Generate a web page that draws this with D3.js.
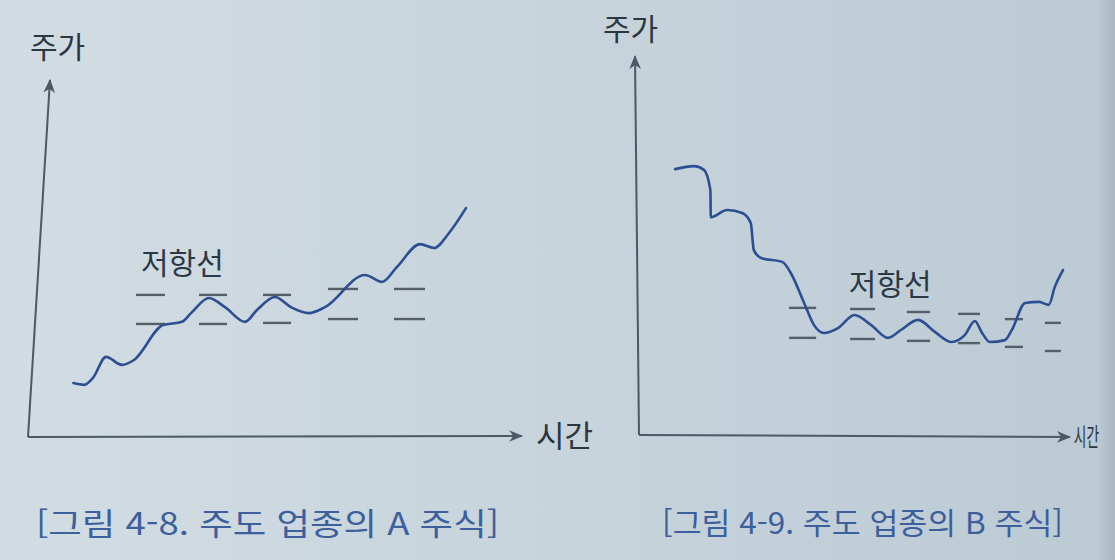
<!DOCTYPE html>
<html lang="ko">
<head>
    <meta charset="UTF-8">
    <title>저항선 - 주도 업종</title>
    <script src="https://d3js.org/d3.v7.min.js"></script>
    <style>
        body {margin: 0; background: #cbd7df}
        text {font-family: 'Noto Sans CJK KR', 'Noto Sans', sans-serif}
    </style>
</head>
<body>
<script>
    const width  = 1115;
    const height = 560;

    // chart A (그림 4-8): time / price in chart units (0-100)
    const timeA  = [9.1, 11.2, 13, 15.6, 18.8, 21.2, 27, 30.8, 32.6, 36.2, 39.4, 43.4, 45.8, 49.4,
                    52.6, 56.2, 59.4, 67.4, 70.8, 73.8, 78.4, 81.2, 84.2, 87.6];
    const priceA = [15.4, 14.9, 16.9, 22.9, 20.6, 22, 32, 32.9, 35.4, 39.7, 37.1, 32.9, 36.3, 40,
                    37.1, 35.4, 37.1, 46.3, 44.3, 48.6, 55.1, 54, 58.3, 65.4];
    // resistance dashes A: start/end time, upper and lower price
    const dashStartA = [21.6, 34.2, 47, 60, 73.2];
    const dashEndA   = [27.4, 39.8, 52.6, 66, 79.4];
    const dashHighA  = [40.6, 40.6, 40.6, 42.3, 42.3];
    const dashLowA   = [32.3, 32.3, 32.6, 33.7, 33.7];

    // chart B (그림 4-9)
    const timeB  = [8.4, 12.8, 15.1, 16.6, 16.7, 20.5, 24, 26, 26.7, 28.4, 33.4, 35.3, 38.4, 40.7,
                    43, 46.3, 50.1, 54, 57.9, 60.9, 64.9, 68.8, 72.7, 75.8, 78.1, 79.8, 81.6,
                    85.1, 86.7, 89.8, 93, 95.3, 96.7, 98.6];
    const priceB = [70.9, 71.7, 70.7, 65.3, 58.1, 60, 59.2, 56.5, 49.3, 47.2, 46.1, 43.2, 35.2, 29.3,
                    27.2, 28.5, 32, 29.3, 25.9, 28, 30.7, 27.5, 24.8, 26.7, 30.4, 27.2, 24.8,
                    25.3, 28, 35.2, 35.5, 34.7, 39.5, 44];
    const dashStartB = [34.9, 49.1, 62.3, 74.2, 85.1, 94.4];
    const dashEndB   = [41.2, 54.9, 67.7, 79.3, 89.3, 98.1];
    const dashHighB  = [33.9, 33.6, 32.8, 32.3, 30.9, 29.9];
    const dashLowB   = [25.9, 25.6, 25.1, 24.5, 23.5, 22.4];

    const yLabel   = "주가";
    const xLabel   = "시간";
    const resLabel = "저항선";
    const captions = ["[그림 4-8. 주도 업종의 A 주식]", "[그림 4-9. 주도 업종의 B 주식]"];

    const panels = [
        {t: timeA, p: priceA, ds: dashStartA, de: dashEndA, dh: dashHighA, dl: dashLowA,
         x: d3.scaleLinear([0, 100], [28, 528]), y: d3.scaleLinear([0, 100], [437, 87]),
         xEnd: 98.8, yEnd: 102, lean: 22, endDrop: -1,
         yLab: {dx: -20, dy: -22, size: 30}, xLab: {dx: 14, size: 31, sx: 1},
         res: {t: 22.6, p: 46.5},
         cap: {x: 36, y: 535, size: 31, len: 463}},
        {t: timeB, p: priceB, ds: dashStartB, de: dashEndB, dh: dashHighB, dl: dashLowB,
         x: d3.scaleLinear([0, 100], [639, 1069]), y: d3.scaleLinear([0, 100], [435, 60]),
         xEnd: 100.2, yEnd: 101, lean: -4, endDrop: 2,
         yLab: {dx: -32, dy: -16, size: 30}, xLab: {dx: 4, size: 25, sx: 0.55},
         res: {t: 48.8, p: 37.3},
         cap: {x: 662, y: 534, size: 30, len: 401}}
    ];

    const svg = d3.select("body")
            .append("svg")
            .attr("width", width)
            .attr("height", height);

    const defs = svg.append("defs");
    const grad = defs.append("linearGradient")
            .attr("id", "paper")
            .attr("gradientUnits", "userSpaceOnUse")
            .attr("x1", 0).attr("y1", 0)
            .attr("x2", width).attr("y2", 0);
    grad.append("stop").attr("offset", "0").attr("stop-color", "#d2dce3");
    grad.append("stop").attr("offset", "0.5").attr("stop-color", "#c7d4dc");
    grad.append("stop").attr("offset", "0.985").attr("stop-color", "#bccad4");
    grad.append("stop").attr("offset", "1").attr("stop-color", "#a7b6c0");

    defs.append("marker")
            .attr("id", "arrow")
            .attr("viewBox", "0 0 12 10")
            .attr("refX", 11).attr("refY", 5)
            .attr("markerWidth", 7).attr("markerHeight", 6)
            .attr("markerUnits", "strokeWidth")
            .attr("orient", "auto")
          .append("path")
            .attr("d", "M0,0 L12,5 L0,10 L3.5,5 Z")
            .attr("fill", "#4b5a64");

    svg.append("rect")
            .attr("width", width)
            .attr("height", height)
            .attr("fill", "url(#paper)");

    panels.forEach((c, k) => {
        const g = svg.append("g");
        const x0 = c.x(0), y0 = c.y(0);

        // axes
        g.append("line")
                .attr("x1", x0).attr("y1", y0)
                .attr("x2", x0 + c.lean).attr("y2", c.y(c.yEnd))
                .attr("stroke", "#4b5a64").attr("stroke-width", 2)
                .attr("marker-end", "url(#arrow)");
        g.append("line")
                .attr("x1", x0).attr("y1", y0)
                .attr("x2", c.x(c.xEnd)).attr("y2", y0 + c.endDrop)
                .attr("stroke", "#4b5a64").attr("stroke-width", 2)
                .attr("marker-end", "url(#arrow)");

        g.append("text")
                .attr("x", x0 + c.lean + c.yLab.dx)
                .attr("y", c.y(c.yEnd) + c.yLab.dy)
                .attr("font-size", c.yLab.size)
                .attr("fill", "#2b3640")
                .text(yLabel);

        g.append("text")
                .attr("transform", `translate(${c.x(c.xEnd) + c.xLab.dx},${y0 + c.endDrop + c.xLab.size * 0.36}) scale(${c.xLab.sx},1)`)
                .attr("font-size", c.xLab.size)
                .attr("fill", "#2b3640")
                .text(xLabel);

        // resistance dashes
        const dashes = c.ds.map((s, i) => ({s: s, e: c.de[i], h: c.dh[i], l: c.dl[i]}));
        ["h", "l"].forEach(key => {
            g.selectAll("line.dash-" + key)
                    .data(dashes)
                    .enter()
                    .append("line")
                    .attr("class", "dash-" + key)
                    .attr("x1", d => c.x(d.s)).attr("x2", d => c.x(d.e))
                    .attr("y1", d => c.y(d[key])).attr("y2", d => c.y(d[key]))
                    .attr("stroke", "#565f67")
                    .attr("stroke-width", 2.4);
        });

        g.append("text")
                .attr("x", c.x(c.res.t))
                .attr("y", c.y(c.res.p))
                .attr("font-size", 30)
                .attr("fill", "#2b3845")
                .text(resLabel);

        // price line
        const line = d3.line()
                .x((d, i) => c.x(c.t[i]))
                .y(d => c.y(d))
                .curve(d3.curveMonotoneX);

        g.append("path")
                .attr("d", line(c.p))
                .attr("fill", "none")
                .attr("stroke", "#2b4f92")
                .attr("stroke-width", 2.6)
                .attr("stroke-linecap", "round")
                .attr("stroke-linejoin", "round");

        svg.append("text")
                .attr("x", c.cap.x)
                .attr("y", c.cap.y)
                .attr("font-size", c.cap.size)
                .attr("textLength", c.cap.len)
                .attr("lengthAdjust", "spacingAndGlyphs")
                .attr("fill", "#3d5f9b")
                .text(captions[k]);
    });
</script>
</body>
</html>
